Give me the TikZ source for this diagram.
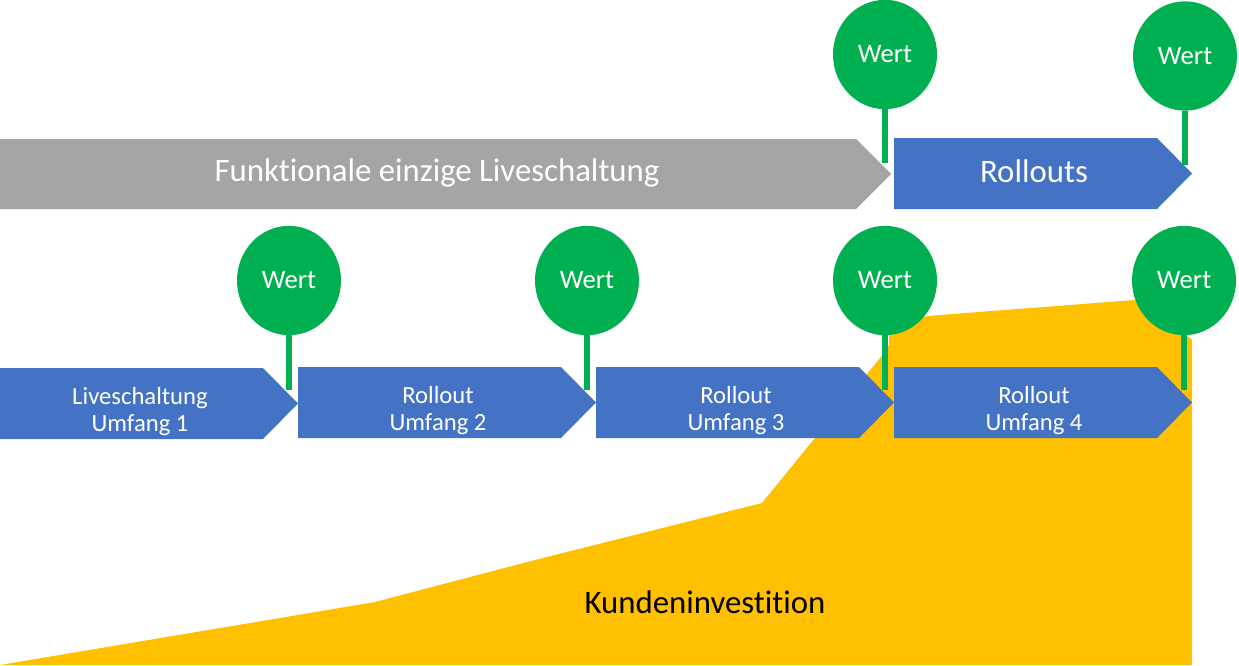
\documentclass[tikz,border=0pt]{standalone}
\usepackage{fontspec}
\setmainfont[RawFeature={-liga}]{Carlito}
\usetikzlibrary{calc,shapes.geometric}
\definecolor{gblue}{HTML}{4472C4}
\definecolor{ggray}{HTML}{A5A5A5}
\definecolor{ggreen}{HTML}{00B050}
\definecolor{gyellow}{HTML}{FFC000}
\tikzset{
 x=0.75pt,y=-0.75pt,
 lbl/.style={text=white,align=center,font=\fontsize{18.5}{20.3}\selectfont,inner sep=0pt},
 biglbl/.style={text=white,font=\fontsize{24.6}{28}\selectfont,inner sep=0pt},
 pinball/.style={ellipse,fill=ggreen,minimum width=78pt,minimum height=82pt,inner sep=0pt,text=white,font=\fontsize{20}{24}\selectfont},
 stem/.style={draw=ggreen,line width=4.6pt},
}
\newcommand{\chevron}[7]{% name, x0,y0,x1,tip,y1, color
 \fill[#7] (#2,#3) -- (#4,#3) -- (#5,{(#3+#6)/2}) -- (#4,#6) -- (#2,#6) -- cycle;
 \coordinate (#1) at ({(#2+#4)/2+10},{(#3+#6)/2});
}
\begin{document}
\begin{tikzpicture}
\useasboundingbox (0,0) rectangle (1239,665);
\fill[white] (0,0) rectangle (1239,665);
\fill[gyellow] (0,665) -- (375,602) -- (535,560) -- (762,503) -- (885,352) -- (889,345) -- (889,330) -- (927,316) -- (1135,300) -- (1190,338) -- (1192,340) -- (1192,665) -- cycle;
\chevron{a0}{0}{139}{856}{891}{209}{ggray}
\chevron{b0}{894}{138}{1157}{1192}{209}{gblue}
\chevron{a1}{0}{368}{263}{298}{439}{gblue}
\chevron{a2}{298}{367}{561}{596}{438}{gblue}
\chevron{a3}{596}{367}{859}{894}{438}{gblue}
\chevron{a4}{894}{367}{1157}{1192}{438}{gblue}
\node[biglbl] (t0) at (437,173) {Funktionale einzige Liveschaltung};
\node[biglbl] (t5) at (1034,171) {Rollouts};
\node[lbl] (t1) at (140,411.5) {Liveschaltung\\Umfang 1};
\node[lbl] (t2) at (438,410.5) {Rollout\\Umfang 2};
\node[lbl] (t3) at (736,410.5) {Rollout\\Umfang 3};
\node[lbl] (t4) at (1034,410.5) {Rollout\\Umfang 4};
\node[inner sep=0pt,font=\fontsize{24.6}{28}\selectfont] (k) at (705,602) {Kundeninvestition};
\node[pinball] (w1) at (885,54.5) {Wert};
\node[pinball] (w2) at (1185,56) {Wert};
\node[pinball] (w3) at (289,280.5) {Wert};
\node[pinball] (w4) at (587,280.5) {Wert};
\node[pinball] (w5) at (885,280.5) {Wert};
\node[pinball] (w6) at (1184,280.5) {Wert};
\coordinate (e1) at (885,163);
\coordinate (e2) at (1185,165);
\coordinate (e3) at (289,390);
\coordinate (e4) at (587,390);
\coordinate (e5) at (885,390);
\coordinate (e6) at (1184,390);
\foreach \i in {1,...,6} \draw[stem] (w\i.south) -- (e\i);
\end{tikzpicture}
\end{document}
